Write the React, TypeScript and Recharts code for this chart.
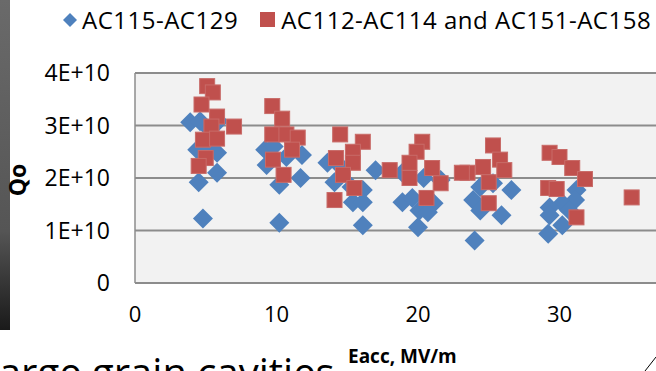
import { ScatterChart, Scatter, XAxis, YAxis, CartesianGrid } from 'recharts';

const FONT = '"Open Sans", "Noto Sans", sans-serif';
const BLUE = '#4F81BD';
const RED = '#C0504D';
const E10 = 1e10;

// [Eacc MV/m, Qo in units of 1E+10]
const seriesA: [number, number][] = [
  [3.9, 3.06], [4.6, 3.08], [5.9, 3.08], [5.3, 2.92], [4.4, 2.54], [5.2, 2.63], [5.8, 2.48], [4.5, 1.92], [5.8, 2.1], [4.8, 1.23],
  [9.2, 2.54], [9.3, 2.25], [10.7, 2.4], [11.8, 2.44], [10.2, 1.87], [11.7, 2.0], [10.2, 1.15], [9.8, 2.6],
  [13.6, 2.29], [14.1, 1.92], [15.3, 1.83], [16.1, 1.77], [15.4, 1.54], [16.1, 1.54], [17.0, 2.15], [16.1, 1.1], [14.6, 2.2],
  [18.9, 2.1], [18.9, 1.54], [19.6, 1.62], [20.4, 2.0], [21.6, 1.96], [21.1, 1.52], [20.1, 1.38], [20.7, 1.35], [20.0, 1.06],
  [24.4, 1.83], [23.9, 1.58], [24.4, 1.38], [25.3, 1.9], [26.6, 1.77], [25.9, 1.29], [24.0, 0.81],
  [31.2, 1.77], [31.1, 1.58], [30.2, 1.52], [29.3, 1.44], [30.7, 1.38], [29.3, 1.29], [30.2, 1.1], [29.2, 0.94],
];

const seriesB: [number, number][] = [
  [5.1, 3.75], [5.5, 3.63], [4.7, 3.4], [5.8, 3.17], [7.0, 2.98], [5.4, 2.98], [4.8, 2.73], [5.8, 2.75], [5.0, 2.38], [4.5, 2.23],
  [9.7, 3.37], [10.4, 3.13], [9.7, 2.83], [10.7, 2.83], [11.5, 2.77], [11.1, 2.54], [9.75, 2.35], [10.5, 2.06],
  [14.5, 2.83], [16.1, 2.69], [15.4, 2.5], [14.2, 2.38], [15.4, 2.29], [14.7, 2.06], [15.5, 1.81], [14.1, 1.58], [18.0, 2.15],
  [20.3, 2.69], [19.9, 2.5], [19.4, 2.29], [19.4, 2.0], [21.0, 2.19], [21.6, 1.9], [20.6, 1.62],
  [23.5, 2.1], [25.3, 2.62], [25.8, 2.35], [24.6, 2.21], [26.1, 2.15], [25.0, 1.92], [25.0, 1.52], [23.1, 2.1],
  [29.3, 2.48], [30.0, 2.4], [30.9, 2.19], [31.8, 1.98], [29.2, 1.81], [29.8, 1.79], [31.2, 1.25], [35.1, 1.63],
];

const xTicks = [0, 10, 20, 30];
const yTicks = [0, 1, 2, 3, 4].map(v => v * E10);

const toRows = (s: [number, number][]) => s.map(([x, q]) => ({ x, y: q * E10 }));

const fmtY = (v: number) => (v === 0 ? '0' : `${Math.round(v / E10)}E+10`);

function Diamond(p: any) {
  const { cx, cy } = p;
  const r = 10;
  return <polygon points={`${cx},${cy - r} ${cx + r},${cy} ${cx},${cy + r} ${cx - r},${cy}`} fill={BLUE} />;
}

function Square(p: any) {
  const { cx, cy } = p;
  return <rect x={cx - 7.5} y={cy - 7.5} width={15} height={15} fill={RED} stroke="#c86b68" strokeWidth={1} />;
}

export default function App() {
  const a = toRows(seriesA);
  const b = toRows(seriesB);

  return (
    <div style={{ position: 'absolute', left: 0, top: 0, width: 656, height: 371, overflow: 'hidden', background: '#fff', fontFamily: FONT }}>
      {/* slide edge strip */}
      <div style={{ position: 'absolute', left: 0, top: 0, width: 10, height: 330, background: 'linear-gradient(#6a6a6a, #555 70%, #1a1a1a)' }} />

      {/* slide title text behind, clipped by the crop */}
      <div style={{ position: 'absolute', left: -22, top: 345, fontSize: 40, color: '#000', whiteSpace: 'nowrap', lineHeight: '54px' }}>
        Large grain cavities
      </div>

      <svg style={{ position: 'absolute', left: 0, top: 0 }} width={656} height={371}>
        <line x1={645} y1={371} x2={656} y2={357} stroke="#000" strokeWidth={1} />
      </svg>

      <div style={{ position: 'absolute', left: 0, top: 0 }}>
        <ScatterChart width={720} height={371} margin={{ top: 73, right: 19, bottom: 28, left: 0 }}>
          <CartesianGrid horizontal vertical={false} fill="#f2f2f2" stroke="#8c8c8c" strokeWidth={2} horizontalValues={yTicks} />
          <XAxis
            type="number" dataKey="x" domain={[0, 40]} ticks={xTicks} height={60}
            tickSize={0} tickMargin={23} axisLine={{ stroke: '#8c8c8c', strokeWidth: 1.5 }}
            tick={{ fontSize: 22, fill: '#000', fontFamily: FONT }} allowDataOverflow
          />
          <YAxis
            type="number" dataKey="y" domain={[0, 4 * E10]} ticks={yTicks} width={135}
            tickSize={0} tickMargin={25} tickFormatter={fmtY} axisLine={{ stroke: '#8c8c8c', strokeWidth: 1.5 }}
            tick={{ fontSize: 23, fill: '#000', fontFamily: FONT }}
          />
          <Scatter data={a} shape={Diamond} isAnimationActive={false} />
          <Scatter data={b} shape={Square} isAnimationActive={false} />
        </ScatterChart>
      </div>

      {/* legend */}
      <div style={{ position: 'absolute', left: 62, top: 3, display: 'flex', alignItems: 'center', fontSize: 24, letterSpacing: 0.5, whiteSpace: 'nowrap' }}>
        <svg width={16} height={16} style={{ marginRight: 4 }}>
          <polygon points="8,1 15,8 8,15 1,8" fill={BLUE} />
        </svg>
        <span>AC115-AC129</span>
        <svg width={15} height={15} style={{ marginLeft: 22, marginRight: 6 }}>
          <rect x={0} y={0} width={15} height={15} fill={RED} />
        </svg>
        <span>AC112-AC114 and AC151-AC158</span>
      </div>

      {/* axis titles */}
      <div style={{ position: 'absolute', left: -3, top: 164, width: 40, textAlign: 'center', fontWeight: 700, fontSize: 23, transform: 'rotate(-90deg)' }}>
        Qo
      </div>
      <div style={{ position: 'absolute', left: 348, top: 343, fontWeight: 700, fontSize: 19, whiteSpace: 'nowrap' }}>
        Eacc, MV/m
      </div>
    </div>
  );
}
